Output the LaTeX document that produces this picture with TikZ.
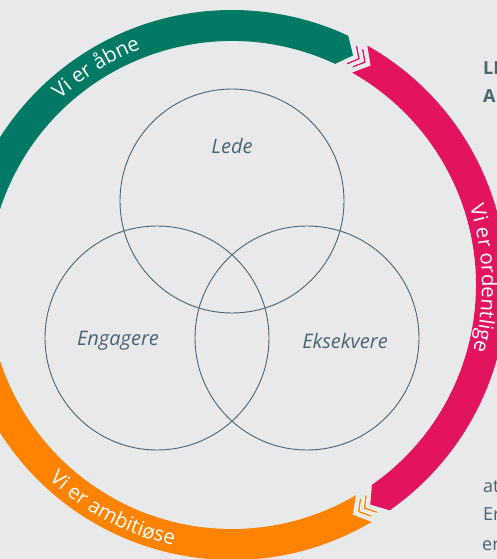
\documentclass[tikz,border=0pt]{standalone}
\usepackage{fontspec}
\setmainfont{Open Sans}
\usetikzlibrary{decorations.text}
\definecolor{bgGrey}{HTML}{E8E9EB}
\definecolor{ringGreen}{HTML}{007A65}
\definecolor{ringPink}{HTML}{E2135F}
\definecolor{ringOrange}{HTML}{FF8300}
\definecolor{slate}{HTML}{4B6470}

\tikzset{
  venn/.style={circle, draw=slate, line width=0.9pt, minimum size=224pt, inner sep=0pt},
  valuetext/.style={text=slate, font=\itshape\fontsize{20}{24}\selectfont},
  sidetext/.style={text=slate, anchor=base west, inner sep=0pt, font=\fontsize{18}{22}\selectfont},
  sidebold/.style={sidetext, font=\bfseries\fontsize{18}{22}\selectfont},
  ringtext/.style={decorate, decoration={text along path, text align=center, text color=white,
    text={|\fontsize{20.5}{24}\selectfont|#1}}},
  chevron/.style={line width=1.4pt, line join=miter}
}

\begin{document}
\begin{tikzpicture}[x=1pt,y=1pt]
	  \useasboundingbox (-232,-274) rectangle (265,285);
	  \clip (-232,-274) rectangle (265,285);
	  \fill[bgGrey] (-232,-274) rectangle (265,285);
	  % the three arcs of the ring
	  \foreach \from/\to/\col in {180.5/65/ringGreen, 60.5/-55/ringPink, -59.5/-175/ringOrange}
	    \fill[\col] (\from:275) arc[start angle=\from, end angle=\to, radius=275]
	      -- ({\to-2.8}:259.5) -- (\to:244) arc[start angle=\to, end angle=\from, radius=244]
	      -- ({\from-2.8}:259.5) -- cycle;
	  % chevrons between the arcs
	  \foreach \j/\col in {62.75/ringPink, -57.25/ringOrange}
	    \foreach \t in {\j-2.05, \j-3.55} {
	      \draw[chevron, white, line width=3.4pt] ({\t+1.8}:269.5) -- (\t:259.5) -- ({\t+1.8}:249.5);
	      \draw[chevron, \col] ({\t+1.8}:269.5) -- (\t:259.5) -- ({\t+1.8}:249.5);
	    }
	  \path[ringtext={Vi er åbne}] (152:253) arc[start angle=152, end angle=92, radius=253];
	  \path[ringtext={Vi er ordentlige}] (30:250) arc[start angle=30, end angle=-27, radius=250];
	  \path[ringtext={Vi er ambitiøse}] (205:267) arc[start angle=205, end angle=279, radius=267];
	  % venn
	  \node[venn] (lede) at (0,84) {};
	  \node[venn] (engagere) at (-75,-53) {};
	  \node[venn] (eksekvere) at (75,-53) {};
	  \node[valuetext] (ledeText) at (0,139) {Lede};
	  \node[valuetext] (engagereText) at (-114,-56) {Engagere};
	  \node[valuetext] (eksekvereText) at (113,-56) {Eksekvere};
	  % text cut off at the right
	  \node[sidebold] (sideLe) at (251,210) {LE};
	  \node[sidebold] (sideA) at (251,182) {A};
	  \node[sidetext] (sideAt) at (251,-207) {at};
	  \node[sidetext] (sideEr) at (251,-235) {Er};
	  \node[sidetext] (sideEn) at (250,-265) {er};
	 \end{tikzpicture}
\end{document}
